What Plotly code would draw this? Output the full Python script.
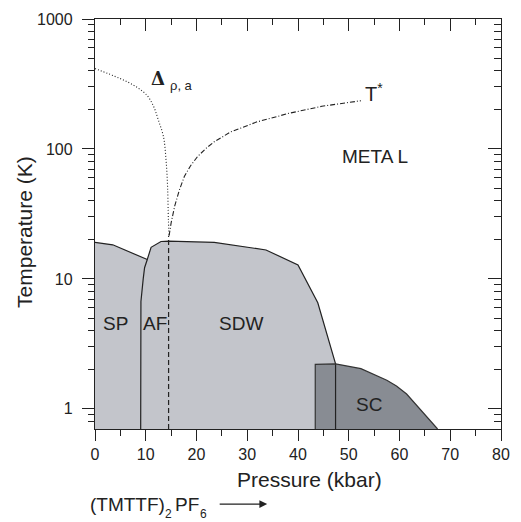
import numpy as np
import plotly.graph_objects as go

# ---------------- data ----------------
# upper boundary of the SP / AF / SDW phases, pressure (kbar) / temperature (K)
edge_p = [0, 3.5, 10.3, 11.05, 13.0, 14.5, 23.5, 31.8, 33.7, 40.0, 43.9, 47.4, 47.4]
edge_T = [19.1, 18.3, 14.1, 17.5, 19.4, 19.5, 19.1, 17.2, 16.7, 12.8, 6.56, 2.22, 0.7]

# SP / AF boundary
spaf_p = [9.0, 9.05, 9.5, 9.77, 10.3]
spaf_T = [0.7, 6.7, 10.0, 12.2, 14.1]

# SC region (dark grey)
sc_p = [43.4, 43.4, 47.4, 52.4, 57.5, 59.4, 61.4, 67.5]
sc_T = [0.7, 2.2, 2.22, 2.04, 1.66, 1.50, 1.30, 0.7]

# Delta_rho,a crossover (dotted)
delta_p = [0.0, 4.8, 8.0, 10.3, 11.6, 12.5, 13.5, 14.0, 14.3, 14.46, 14.6]
delta_T = [415, 350, 303, 257, 210, 166, 124, 82, 51.6, 28.7, 21.5]

# T* crossover (dash-dot)
tstar_p = [14.6, 15.0, 15.7, 16.6, 17.6, 18.8, 20.2, 21.8, 23.5, 26.7, 31.8, 38.2, 44.7, 52.4]
tstar_T = [21.5, 27.0, 36.3, 48.0, 61.4, 74.0, 87.3, 100.5, 113.5, 135, 161, 188, 213, 235]

# dashed vertical line
dash_p = [14.5, 14.5]
dash_T = [0.7, 21.5]

x_ticks = [0, 10, 20, 30, 40, 50, 60, 70, 80]
y_ticks = [1, 10, 100, 1000]
y_minor = [0.8, 0.9] + [m * 10 ** e for e in range(0, 3) for m in range(2, 10)]

# light region polygon: phase edge down to the SC box, then along the bottom
light_p = [0] + edge_p[:-1] + [sc_p[1], sc_p[0]]
light_T = [0.7] + edge_T[:-1] + [sc_T[1], sc_T[0]]

# ---------------- figure ----------------
LIGHT = "#c3c5cb"
DARK = "#888c93"
INK = "#222222"
FONT = "Liberation Sans, Arial, sans-serif"

fig = go.Figure()

fig.add_trace(go.Scatter(x=light_p, y=light_T, fill="toself", fillcolor=LIGHT,
                         mode="lines", line=dict(width=0), hoverinfo="skip", showlegend=False))
fig.add_trace(go.Scatter(x=sc_p, y=sc_T, fill="toself", fillcolor=DARK,
                         mode="lines", line=dict(width=0), hoverinfo="skip", showlegend=False))
# outlines
fig.add_trace(go.Scatter(x=edge_p, y=edge_T, mode="lines",
                         line=dict(color=INK, width=1.2), hoverinfo="skip", showlegend=False))
fig.add_trace(go.Scatter(x=sc_p, y=sc_T, mode="lines",
                         line=dict(color="#333333", width=1.2), hoverinfo="skip", showlegend=False))
fig.add_trace(go.Scatter(x=spaf_p, y=spaf_T, mode="lines",
                         line=dict(color=INK, width=1.2), hoverinfo="skip", showlegend=False))
fig.add_trace(go.Scatter(x=dash_p, y=dash_T, mode="lines",
                         line=dict(color=INK, width=1.2, dash="5px,3px"), hoverinfo="skip", showlegend=False))
fig.add_trace(go.Scatter(x=delta_p, y=delta_T, mode="lines", line_shape="spline",
                         line=dict(color=INK, width=1.1, dash="1px,2px"), hoverinfo="skip", showlegend=False))
fig.add_trace(go.Scatter(x=tstar_p, y=tstar_T, mode="lines",
                         line=dict(color=INK, width=1.1, dash="5px,2px,1px,2px"), hoverinfo="skip", showlegend=False))
# helper trace for mirrored axes
fig.add_trace(go.Scatter(x=[40], y=[10], xaxis="x2", yaxis="y2", mode="markers",
                         marker=dict(opacity=0), hoverinfo="skip", showlegend=False))

yr = [np.log10(0.7), 3]
axis_common = dict(showgrid=False, zeroline=False, showline=True, linecolor=INK, linewidth=1.3,
                   tickcolor=INK, tickwidth=1.3)

fig.update_layout(
    width=521, height=522,
    margin=dict(l=95, r=11, t=14, b=93),
    paper_bgcolor="white", plot_bgcolor="white",
    font=dict(family=FONT, color=INK),
    xaxis=dict(range=[0, 80], tickvals=x_ticks, ticks="outside", ticklen=11,
               tickfont=dict(size=16),
               minor=dict(dtick=5, tick0=0, ticks="outside", ticklen=6, tickwidth=1.2, tickcolor=INK),
               **axis_common),
    yaxis=dict(type="log", range=yr, tickvals=y_ticks, ticktext=[str(v) for v in y_ticks],
               ticks="outside", ticklen=12, tickfont=dict(size=16), ticklabelstandoff=6,
               minor=dict(tickvals=y_minor, ticks="outside", ticklen=6, tickwidth=1.2, tickcolor=INK),
               **axis_common),
    xaxis2=dict(overlaying="x", side="top", range=[0, 80], tickvals=x_ticks, ticks="inside",
                ticklen=12, showticklabels=False,
                minor=dict(dtick=5, tick0=0, ticks="inside", ticklen=6, tickwidth=1.2, tickcolor=INK),
                **axis_common),
    yaxis2=dict(overlaying="y", side="right", type="log", range=yr, tickvals=y_ticks, ticks="inside",
                ticklen=13, showticklabels=False,
                minor=dict(tickvals=y_minor, ticks="inside", ticklen=7, tickwidth=1.2, tickcolor=INK),
                **axis_common),
)

def lab(text, x, y, size=19, **kw):
    fam = kw.pop("family", FONT)
    fig.add_annotation(x=x, y=np.log10(y), text=text, showarrow=False,
                       font=dict(size=size, family=fam, color=INK), **kw)

lab("SP", 4.1, 4.56)
lab("AF", 11.8, 4.56)
lab("SDW", 28.7, 4.56)
lab("SC", 54.0, 1.09)
lab("META L", 55.2, 87.2)
lab("T<sup>*</sup>", 52.9, 272, size=20, xanchor="left")
lab("<b>Δ</b>", 12.34, 347, size=18, family="DejaVu Serif")
lab("ρ, a", 14.3, 310, size=13, xanchor="left")

# paper-positioned texts (pixel helpers)
def plab(text, px, py, size, xanchor="left", **kw):
    fig.add_annotation(xref="paper", yref="paper", x=(px - 95) / 415, y=(429 - py) / 415,
                       xanchor=xanchor, yanchor="middle", text=text, showarrow=False,
                       font=dict(size=size, family=FONT, color=INK), **kw)

# axis titles
plab("Pressure (kbar)", 314, 480, 21, xanchor="center")
plab("Temperature (K)", 23, 230, 21, xanchor="center", textangle=-90)

# bottom compound label with arrow
plab("(TMTTF)", 88, 505, 19)
plab("2", 164, 515, 12)
plab("PF", 175, 505, 19)
plab("6", 200, 515, 12)
fig.add_annotation(xref="paper", yref="paper", x=(271 - 95) / 415, y=(429 - 505) / 415,
                   ax=-49, ay=0, text="", showarrow=True, arrowhead=2, arrowsize=1.3,
                   arrowwidth=1.2, arrowcolor=INK)

fig.write_html("out.html")
